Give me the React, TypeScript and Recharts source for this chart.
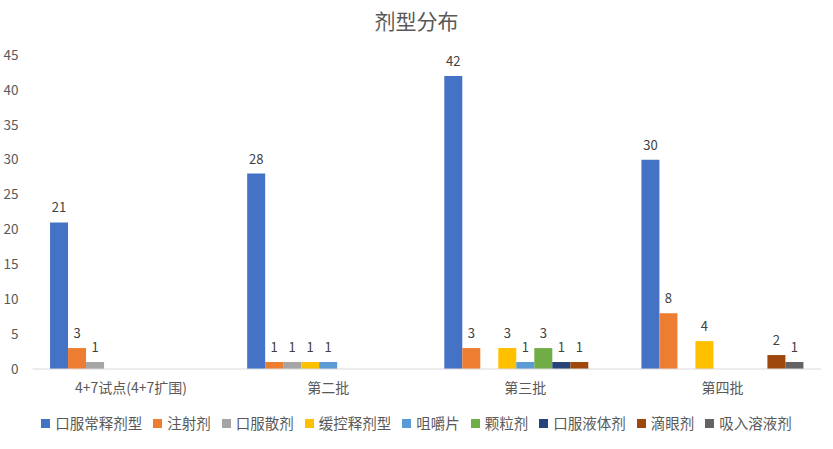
import React from "react";
import { BarChart, Bar, XAxis, YAxis, Legend, LabelList } from "recharts";

const categories = ["4+7试点(4+7扩围)", "第二批", "第三批", "第四批"];
const seriesNames = ["口服常释剂型", "注射剂", "口服散剂", "缓控释剂型", "咀嚼片", "颗粒剂", "口服液体剂", "滴眼剂", "吸入溶液剂"];
const seriesColors = ["#4472C4", "#ED7D31", "#A5A5A5", "#FFC000", "#5B9BD5", "#70AD47", "#264478", "#9E480E", "#636363"];

const oralRegular = [21, 28, 42, 30];
const injection = [3, 1, 3, 8];
const oralPowder = [1, 1, null, null];
const sustained = [null, 1, 3, 4];
const chewable = [null, 1, 1, null];
const granule = [null, null, 3, null];
const oralLiquid = [null, null, 1, null];
const eyeDrops = [null, null, 1, 2];
const inhalation = [null, null, null, 1];

const yTicks = [0, 5, 10, 15, 20, 25, 30, 35, 40, 45];

const seriesValues = [oralRegular, injection, oralPowder, sustained, chewable, granule, oralLiquid, eyeDrops, inhalation];

const data = categories.map((c, i) => {
  const row: Record<string, any> = { name: c };
  seriesNames.forEach((s, j) => {
    row[s] = seriesValues[j][i];
  });
  return row;
});

const FONT = '"Noto Sans CJK SC", "Noto Sans", sans-serif';

const LegendContent = () => (
  <div style={{ display: "flex", justifyContent: "center", alignItems: "center", fontSize: 14.5, fontFamily: FONT, color: "#595959", lineHeight: "26px" }}>
    {seriesNames.map((s, j) => (
      <span key={s} style={{ display: "inline-flex", alignItems: "center", marginRight: j === seriesNames.length - 1 ? 0 : 11 }}>
        <span style={{ display: "inline-block", width: 9, height: 9, background: seriesColors[j], marginRight: 5 }} />
        {s}
      </span>
    ))}
  </div>
);

export default function App() {
  return (
    <div style={{ position: "absolute", left: 0, top: 0, width: 833, height: 449, background: "#fff", fontFamily: FONT }}>
      <div
        style={{
          position: "absolute",
          left: 0,
          top: 4,
          width: 833,
          textAlign: "center",
          fontSize: 21,
          color: "#595959",
          lineHeight: "32px",
        }}
      >
        剂型分布
      </div>
      <BarChart
        width={833}
        height={449}
        data={data}
        margin={{ top: 55, right: 12, left: 0, bottom: 24 }}
        barCategoryGap="8.9%"
        barGap={0}
      >
        <XAxis
          dataKey="name"
          axisLine={{ stroke: "#D9D9D9" }}
          tickLine={false}
          tickMargin={8}
          height={30}
          tick={{ fontSize: 14, fill: "#595959", fontFamily: FONT }}
          interval={0}
        />
        <YAxis
          domain={[0, 45]}
          ticks={yTicks}
          axisLine={false}
          tickLine={false}
          tickSize={0}
          tickMargin={14}
          width={32.5}
          tick={{ fontSize: 13.5, fill: "#595959", fontFamily: FONT }}
        />
        <Legend
          verticalAlign="bottom"
          content={<LegendContent />}
          wrapperStyle={{ top: 410, left: 0, width: 833, height: 26 }}
        />
        {seriesNames.map((s, j) => (
          <Bar key={s} dataKey={s} fill={seriesColors[j]} isAnimationActive={false}>
            <LabelList dataKey={s} position="top" offset={10} style={{ fontSize: 13, fill: "#404040", fontFamily: FONT }} />
          </Bar>
        ))}
      </BarChart>
    </div>
  );
}
